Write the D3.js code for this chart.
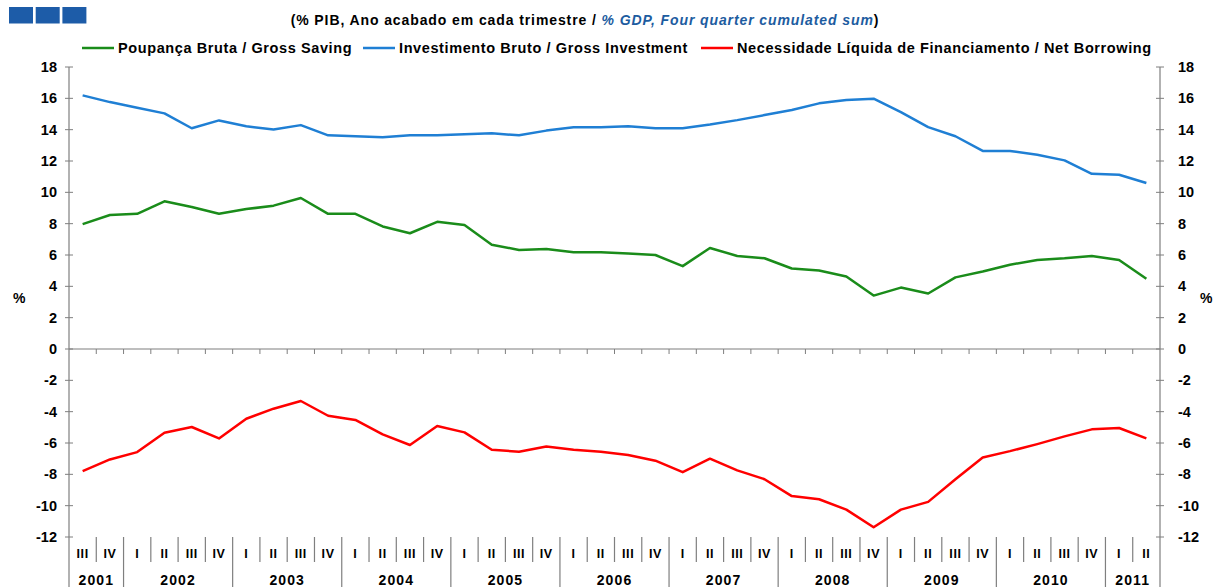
<!DOCTYPE html>
<html>
<head>
<meta charset="utf-8">
<script src="https://cdn.jsdelivr.net/npm/d3@7"></script>
<style>
  html, body { margin: 0; padding: 0; background: #fff; }
  svg { display: block; font-family: "Liberation Sans", Arial, sans-serif; }
  text { font-weight: bold; }
</style>
</head>
<body>
<svg id="chart" width="1214" height="587"></svg>
<script>
// ---------------- DATA ----------------
const periods = [
  "2001-III","2001-IV",
  "2002-I","2002-II","2002-III","2002-IV",
  "2003-I","2003-II","2003-III","2003-IV",
  "2004-I","2004-II","2004-III","2004-IV",
  "2005-I","2005-II","2005-III","2005-IV",
  "2006-I","2006-II","2006-III","2006-IV",
  "2007-I","2007-II","2007-III","2007-IV",
  "2008-I","2008-II","2008-III","2008-IV",
  "2009-I","2009-II","2009-III","2009-IV",
  "2010-I","2010-II","2010-III","2010-IV",
  "2011-I","2011-II"
];
const grossSaving = [
  7.97, 8.55, 8.63, 9.43, 9.06, 8.63, 8.93, 9.15, 9.64, 8.63,
  8.63, 7.82, 7.39, 8.12, 7.91, 6.66, 6.32, 6.39, 6.17, 6.17,
  6.09, 6.00, 5.29, 6.45, 5.94, 5.79, 5.14, 5.01, 4.63, 3.41,
  3.92, 3.54, 4.57, 4.95, 5.38, 5.68, 5.79, 5.94, 5.68, 4.48
];
const grossInvestment = [
  16.19, 15.76, 15.40, 15.04, 14.09, 14.59, 14.22, 14.01, 14.29, 13.64,
  13.58, 13.52, 13.64, 13.64, 13.71, 13.77, 13.64, 13.94, 14.16, 14.16,
  14.22, 14.09, 14.09, 14.33, 14.61, 14.93, 15.25, 15.68, 15.89, 15.98,
  15.12, 14.16, 13.58, 12.64, 12.64, 12.40, 12.04, 11.18, 11.12, 10.60
];
const netBorrowing = [
  -7.80, -7.05, -6.58, -5.34, -4.98, -5.71, -4.45, -3.81, -3.32, -4.26,
  -4.53, -5.45, -6.13, -4.92, -5.32, -6.43, -6.56, -6.22, -6.43, -6.56,
  -6.77, -7.13, -7.86, -7.00, -7.75, -8.31, -9.39, -9.59, -10.25, -11.38,
  -10.25, -9.76, -8.31, -6.92, -6.52, -6.07, -5.58, -5.13, -5.04, -5.71
];
const yTicks = [-12, -10, -8, -6, -4, -2, 0, 2, 4, 6, 8, 10, 12, 14, 16, 18];
const seriesNames = [
  "Poupança Bruta / Gross Saving",
  "Investimento Bruto / Gross Investment",
  "Necessidade Líquida de Financiamento / Net Borrowing"
];
const titleBlack = "(% PIB, Ano acabado em cada trimestre / ";
const titleBlue = "% GDP, Four quarter cumulated sum";
const titleEnd = ")";
const axisUnit = "%";

// ---------------- LAYOUT ----------------
const svg = d3.select("#chart");
const W = 1214, H = 587;
const plotL = 69, plotR = 1160, plotT = 67, plotB = 537;
const colors = { save: "#1a8c1a", inv: "#1f7fd4", net: "#ff0000" };
const axisColor = "#7f7f7f";

const x = d3.scaleBand().domain(periods).range([plotL, plotR]).paddingInner(0).paddingOuter(0);
const y = d3.scaleLinear().domain([-12, 18]).range([plotB, plotT]);

// Header squares
const sq = svg.append("g");
[0, 1, 2].forEach(k => {
  sq.append("rect").attr("x", 9 + k * 26.7).attr("y", 7).attr("width", 24).attr("height", 16.5)
    .attr("fill", "#1d5ca8");
});

// Title
const title = svg.append("text").attr("x", 585).attr("y", 25).attr("text-anchor", "middle")
  .style("font-size", "14px").style("letter-spacing", "0.9px");
title.append("tspan").attr("fill", "#000").text(titleBlack);
title.append("tspan").attr("fill", "#1d5ca0").style("font-style", "italic").text(titleBlue);
title.append("tspan").attr("fill", "#000").text(titleEnd);

// Legend
const legendItems = [
  { name: seriesNames[0], color: colors.save, lx: 82 },
  { name: seriesNames[1], color: colors.inv, lx: 363 },
  { name: seriesNames[2], color: colors.net, lx: 701 }
];
const lg = svg.append("g");
legendItems.forEach(it => {
  lg.append("line").attr("x1", it.lx).attr("x2", it.lx + 32).attr("y1", 48).attr("y2", 48)
    .attr("stroke", it.color).attr("stroke-width", 2.5);
  lg.append("text").attr("x", it.lx + 36).attr("y", 53).style("font-size", "14.5px")
    .style("letter-spacing", "0.6px").attr("fill", "#000").text(it.name);
});

// Y axes
function styleAxis(g) {
  g.select(".domain").remove();
  g.selectAll(".tick line").remove();
  g.selectAll(".tick text").style("font-size", "14.5px").style("font-weight", "bold")
    .attr("fill", "#000").style("font-family", "'Liberation Sans', Arial, sans-serif");
}
const yAxisL = svg.append("g").attr("transform", `translate(${plotL},0)`)
  .call(d3.axisLeft(y).tickValues(yTicks).tickFormat(d => String(d)).tickSize(0).tickPadding(12));
styleAxis(yAxisL);
const yAxisR = svg.append("g").attr("transform", `translate(${plotR},0)`)
  .call(d3.axisRight(y).tickValues(yTicks).tickFormat(d => String(d)).tickSize(0).tickPadding(18));
styleAxis(yAxisR);

// cross ticks on y axes
[plotL, plotR].forEach(ax => {
  svg.append("g").selectAll("line").data(yTicks).join("line")
    .attr("x1", ax - 4).attr("x2", ax + 4)
    .attr("y1", d => y(d)).attr("y2", d => y(d))
    .attr("stroke", axisColor).attr("stroke-width", 1);
  svg.append("line").attr("x1", ax).attr("x2", ax).attr("y1", plotT).attr("y2", H)
    .attr("stroke", axisColor).attr("stroke-width", 1.2);
});

// % labels
svg.append("text").attr("x", 13).attr("y", 303).style("font-size", "14px").text(axisUnit);
svg.append("text").attr("x", 1200).attr("y", 303).style("font-size", "14px").text(axisUnit);

// zero line with ticks at category boundaries
svg.append("line").attr("x1", plotL).attr("x2", plotR).attr("y1", y(0)).attr("y2", y(0))
  .attr("stroke", axisColor).attr("stroke-width", 1.2);
svg.append("g").selectAll("line").data(periods.slice(1)).join("line")
  .attr("x1", d => x(d)).attr("x2", d => x(d))
  .attr("y1", y(0)).attr("y2", y(0) + 5)
  .attr("stroke", axisColor).attr("stroke-width", 1);

// category axis below chart
const qLab = periods.map(p => p.split("-")[1]);
const yr = periods.map(p => p.split("-")[0]);
const catG = svg.append("g");
periods.forEach((p, i) => {
  if (i > 0) {
    const yearStart = yr[i] !== yr[i - 1];
    catG.append("line").attr("x1", x(p)).attr("x2", x(p))
      .attr("y1", plotB).attr("y2", yearStart ? H : 562)
      .attr("stroke", axisColor).attr("stroke-width", 1.2);
  }
  catG.append("text").attr("x", x(p) + x.bandwidth() / 2).attr("y", 558)
    .attr("text-anchor", "middle").style("font-size", "12.5px").style("letter-spacing", "0.6px")
    .text(qLab[i]);
});
const yearNames = Array.from(new Set(yr));
yearNames.forEach(yn => {
  const ps = periods.filter((p, i) => yr[i] === yn);
  const x0 = x(ps[0]), x1 = x(ps[ps.length - 1]) + x.bandwidth();
  catG.append("text").attr("x", (x0 + x1) / 2).attr("y", 585)
    .attr("text-anchor", "middle").style("font-size", "14px").style("letter-spacing", "1.1px")
    .text(yn);
});

// Lines
const line = d3.line().x((d, i) => x(periods[i]) + x.bandwidth() / 2).y(d => y(d));
[[grossInvestment, colors.inv], [grossSaving, colors.save], [netBorrowing, colors.net]].forEach(([data, c]) => {
  svg.append("path").datum(data).attr("d", line).attr("fill", "none")
    .attr("stroke", c).attr("stroke-width", 2.5).attr("stroke-linejoin", "round");
});
</script>
</body>
</html>
